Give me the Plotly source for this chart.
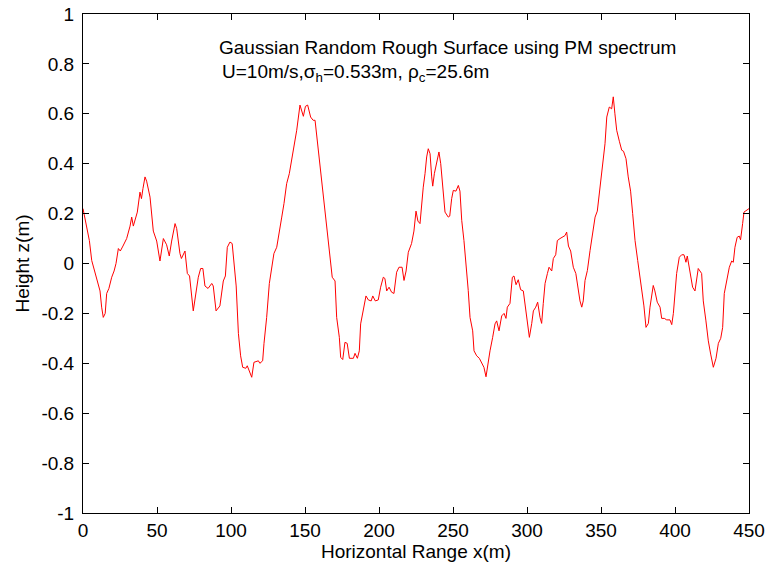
import plotly.graph_objects as go

# Surface profile
x_m = [0, 2.5, 4.3, 5.9, 8.1, 10.3, 11.5, 12.6, 13.7, 15, 16, 17.5, 19.4, 21, 22.3, 23.9, 25.2, 27, 29.5,
       31.8, 32.9, 34, 36.7, 38.5, 39.5, 40.5, 41.9, 43, 45.3, 47.5, 49.8, 52, 54.3, 56.5, 58.3, 59.9,
       62.2, 63.3, 65.5, 66.5, 68.9, 70.5, 72, 74.5, 75.8, 77.9, 79.5, 81, 82.4, 84.5, 87, 88, 89.9,
       91.5, 92.5, 94.8, 96.2, 97.5, 99.3, 100.8, 102, 103.5, 105, 106.5, 107.9, 110, 111, 114, 115.5,
       118.5, 119.5, 121.4, 122.3, 124.1, 125.9, 127.5, 129, 130.9, 132.6, 134.3, 135.8, 137.6, 139.4,
       141, 142.6, 144.4, 146.6, 147.7, 148.9, 150.3, 151.8, 153.8, 155.5, 156.8, 158.3, 160.1, 161.9,
       163.5, 165.1, 166.9, 168.4, 170.3, 171.4, 173.2, 174.1, 175.5, 177, 178.5, 180, 182.7, 183.8,
       185.4, 186.7, 187.6, 189.4, 191.2, 192.8, 194.7, 195.8, 197.5, 199.5, 201.1, 202.9, 204, 205.2,
       206.8, 208.5, 210.1, 211.9, 213.5, 215.6, 216.9, 218.3, 219.8, 222, 223.6, 225, 226.3, 227.7,
       228.8, 229.9, 231.1, 232.2, 233.3, 234.5, 235.6, 236.3, 237.4, 239, 240.5, 241.7, 242.8, 243.8,
       244.6, 246.8, 247.8, 249.1, 250.2, 252, 253.6, 254.7, 255.9, 257.4, 258.8, 260.3, 261.5, 263.3,
       264.2, 266, 267.8, 269.4, 270.9, 272.3, 273.9, 275, 276.8, 278.4, 279.5, 281.1, 282.9, 284.5,
       285.8, 286.7, 288.5, 290.1, 291.2, 292.6, 294.1, 295.7, 297.5, 299.3, 300.5, 301.6, 303.2, 304.3,
       305.9, 307.2, 308.8, 309.9, 311, 312.2, 313.8, 314.9, 316.7, 317.8, 319.4, 320.5, 322.3, 323.9,
       325.7, 326.8, 328, 329.5, 331.3, 333, 334.5, 335.8, 337, 338, 339.2, 340.8, 342.6, 344.4, 346,
       347.5, 348.9, 350.5, 351.6, 352.7, 353.9, 355.6, 357.2, 358.3, 359.4, 360.6, 362.4, 364, 365.2,
       366.9, 368.4, 370, 371.4, 373, 374.8, 376.4, 377.5, 379, 380.4, 382, 383.1, 384.2, 385.3, 386.4,
       388, 389.9, 391, 392.8, 394.4, 396.6, 397.8, 398.9, 400, 401.1, 402.9, 404.5, 406.1, 407.4,
       408.3, 410.1, 411.9, 413.5, 414.6, 415.7, 418, 419.1, 420.9, 422.5, 424.1, 425.9, 427.7, 429.3,
       430.9, 432.2, 433.3, 434.9, 436.7, 438.3, 439.4, 440.5, 442, 443.4, 444.3, 445.7, 446.6, 450]
z_m = [0.22, 0.146, 0.092, 0.012, -0.04, -0.09, -0.11, -0.175, -0.216, -0.2, -0.12, -0.1, -0.055, -0.03,
       0, 0.06, 0.05, 0.07, 0.1, 0.15, 0.186, 0.15, 0.206, 0.286, 0.26, 0.3, 0.347, 0.33, 0.266, 0.13,
       0.09, 0.01, 0.1, 0.075, 0.03, 0.09, 0.16, 0.14, 0.04, 0.02, 0.05, -0.04, -0.05, -0.19, -0.13,
       -0.055, -0.02, -0.02, -0.09, -0.1, -0.08, -0.09, -0.19, -0.18, -0.17, -0.07, -0.05, 0.065, 0.086,
       0.08, 0, -0.09, -0.28, -0.37, -0.416, -0.42, -0.41, -0.456, -0.396, -0.39, -0.4, -0.39, -0.32,
       -0.216, -0.08, -0.015, 0.04, 0.065, 0.12, 0.186, 0.24, 0.32, 0.36, 0.414, 0.46, 0.534, 0.635,
       0.61, 0.59, 0.63, 0.635, 0.587, 0.574, 0.574, 0.494, 0.387, 0.306, 0.213, 0.12, 0.025, -0.055,
       -0.07, -0.216, -0.296, -0.376, -0.385, -0.316, -0.32, -0.38, -0.38, -0.36, -0.38, -0.35, -0.242,
       -0.19, -0.13, -0.146, -0.15, -0.13, -0.15, -0.146, -0.095, -0.055, -0.06, -0.11, -0.095, -0.115,
       -0.12, -0.035, -0.015, -0.015, -0.068, -0.03, 0.045, 0.08, 0.13, 0.21, 0.17, 0.16, 0.25, 0.306,
       0.36, 0.427, 0.46, 0.44, 0.347, 0.31, 0.36, 0.407, 0.447, 0.4, 0.313, 0.26, 0.206, 0.186, 0.19,
       0.26, 0.293, 0.29, 0.313, 0.29, 0.173, 0.092, 0, -0.108, -0.216, -0.27, -0.35, -0.37, -0.38,
       -0.4, -0.416, -0.454, -0.39, -0.35, -0.296, -0.242, -0.23, -0.27, -0.21, -0.2, -0.22, -0.175,
       -0.16, -0.055, -0.05, -0.085, -0.065, -0.105, -0.11, -0.19, -0.256, -0.296, -0.24, -0.19, -0.175,
       -0.155, -0.216, -0.24, -0.16, -0.08, -0.04, -0.015, -0.03, 0.02, 0.035, 0.092, 0.1, 0.105, 0.112,
       0.126, 0.07, 0.05, -0.015, -0.04, -0.11, -0.15, -0.175, -0.15, -0.068, -0.028, 0.052, 0.12,
       0.186, 0.21, 0.28, 0.36, 0.427, 0.48, 0.587, 0.627, 0.62, 0.668, 0.6, 0.534, 0.49, 0.454, 0.45,
       0.42, 0.347, 0.29, 0.2, 0.092, 0.012, -0.055, -0.12, -0.17, -0.256, -0.24, -0.175, -0.135,
       -0.088, -0.11, -0.155, -0.175, -0.22, -0.22, -0.226, -0.226, -0.245, -0.2, -0.108, -0.04, 0.025,
       0.035, 0.035, 0.005, 0.03, -0.028, -0.095, -0.11, -0.07, -0.02, -0.04, -0.15, -0.23, -0.31,
       -0.363, -0.416, -0.38, -0.32, -0.3, -0.256, -0.12, -0.068, -0.015, 0.01, 0.005, 0.065, 0.105,
       0.11, 0.095, 0.16, 0.206, 0.22]

x_ticks = [0, 50, 100, 150, 200, 250, 300, 350, 400, 450]
x_ticktext = ["0", "50", "100", "150", "200", "250", "300", "350", "400", "450"]
y_ticks = [-1, -0.8, -0.6, -0.4, -0.2, 0, 0.2, 0.4, 0.6, 0.8, 1]
y_ticktext = ["-1", "-0.8", "-0.6", "-0.4", "-0.2", "0", "0.2", "0.4", "0.6", "0.8", "1"]

title_line1 = "Gaussian Random Rough Surface using PM spectrum"
title_line2 = "U=10m/s,σ<sub>h</sub>=0.533m, ρ<sub>c</sub>=25.6m"

FONT = "Liberation Sans, Arial, sans-serif"
FS = 19

fig = go.Figure()
fig.add_trace(go.Scatter(x=x_m, y=z_m, mode="lines",
                         line=dict(color="#ff0000", width=1), showlegend=False))

axis_common = dict(showline=True, linecolor="black", linewidth=1, mirror="ticks",
                   ticks="inside", ticklen=6, tickcolor="black", tickwidth=1,
                   showgrid=False, zeroline=False,
                   tickfont=dict(family=FONT, size=FS, color="black"))

fig.update_xaxes(range=[0, 450], tickvals=x_ticks, ticktext=x_ticktext,
                 title=dict(text="Horizontal Range x(m)", font=dict(family=FONT, size=FS, color="black"),
                            standoff=4),
                 ticklabelstandoff=0,
                 **axis_common)
fig.update_yaxes(range=[-1, 1], tickvals=y_ticks, ticktext=y_ticktext,
                 title=dict(text="Height z(m)", font=dict(family=FONT, size=FS, color="black"),
                            standoff=6),
                 ticklabelstandoff=4,
                 **axis_common)

fig.add_annotation(x=90.5, y=0.867, xref="x", yref="y", text=title_line1, showarrow=False,
                   xanchor="left", yanchor="middle", font=dict(family=FONT, size=FS, color="black"))
fig.add_annotation(x=92.5, y=0.765, xref="x", yref="y", text=title_line2, showarrow=False,
                   xanchor="left", yanchor="middle", font=dict(family=FONT, size=FS, color="black"))

fig.update_layout(width=765, height=571, margin=dict(l=83, r=16, t=14, b=58, autoexpand=False),
                  paper_bgcolor="white", plot_bgcolor="white")

fig.write_html("out.html")
